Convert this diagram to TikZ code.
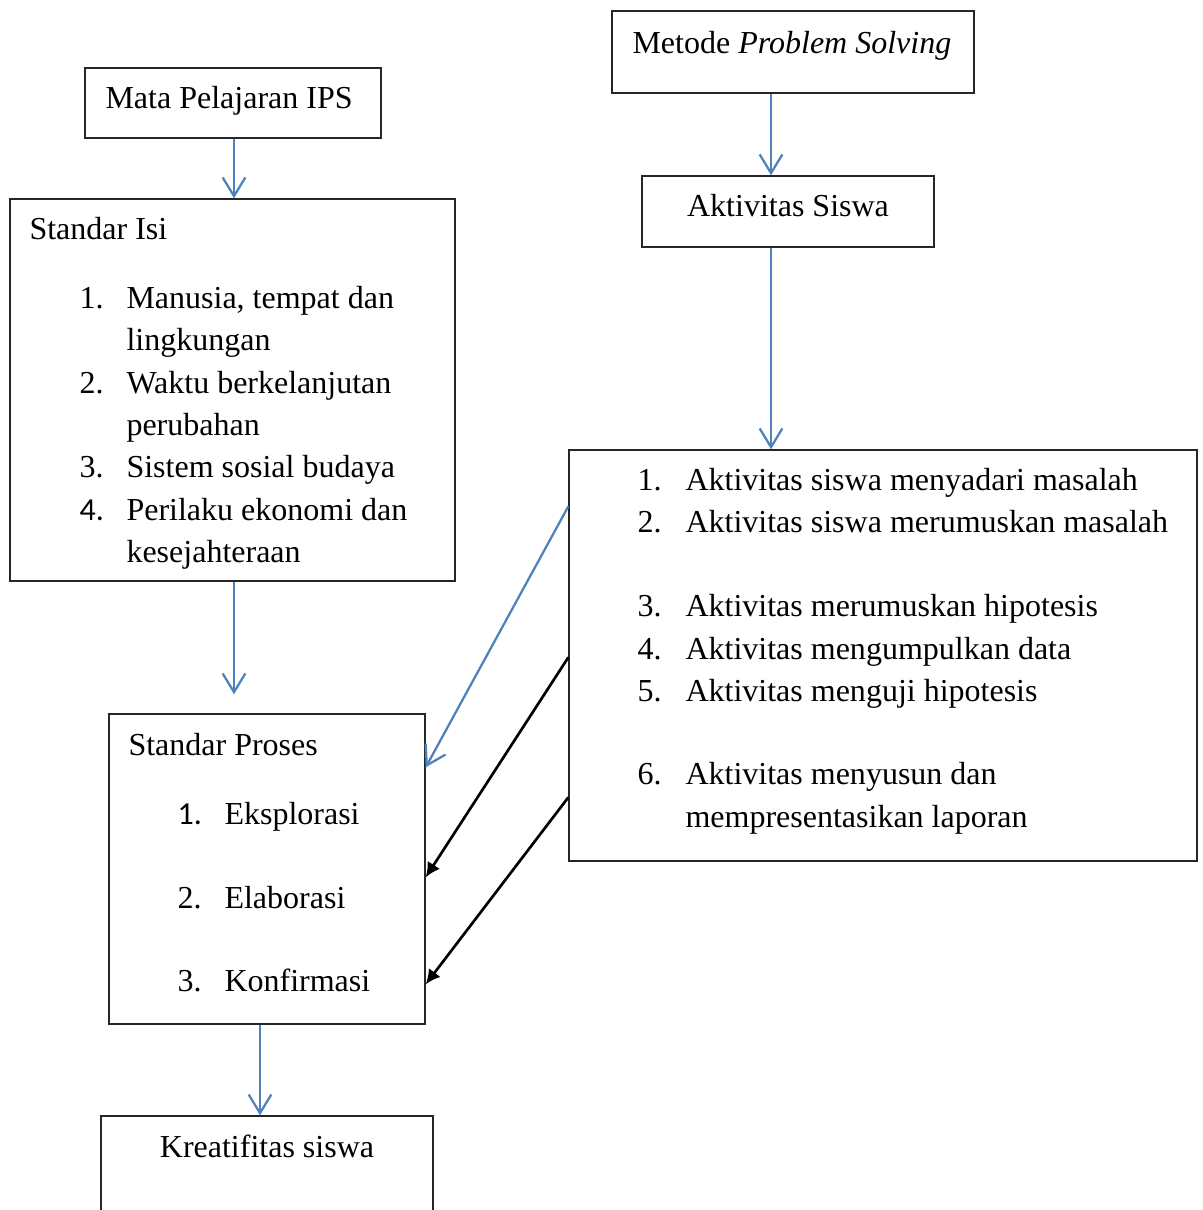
\documentclass[tikz,border=0pt]{standalone}
\usepackage{fontspec}
\setmainfont{Liberation Serif}
\newfontfamily\numfont{Carlito}
\usetikzlibrary{arrows.meta,calc}
\definecolor{wblue}{RGB}{79,129,189}
\tikzset{
  box/.style={draw=black!85, line width=0.5pt, inner sep=0pt},
  txt/.style={anchor=base west, inner sep=0pt, font=\fontsize{12pt}{14pt}\selectfont},
  ctxt/.style={anchor=base, inner sep=0pt, font=\fontsize{12pt}{14pt}\selectfont},
  bluearrow/.style={draw=wblue, line width=0.85pt, -{Straight Barb[length=7pt,width=8.5pt,line width=0.85pt]}},
  blackarrow/.style={draw=black, line width=1pt, -{Latex[length=5.5pt,width=5.5pt]}}
}
\begin{document}
\begin{tikzpicture}[x=0.375pt,y=-0.375pt]
\useasboundingbox (0,0) rectangle (1202,1210);
\clip (0,0) rectangle (1202,1210);
% boxes
\node[box, minimum width=111pt, minimum height=26.25pt] (MP) at (233,103) {};
\node[box, minimum width=135.75pt, minimum height=30.75pt] (MT) at (793,52) {};
\node[box, minimum width=166.875pt, minimum height=143.25pt] (SI) at (232.5,390) {};
\node[box, minimum width=118.5pt, minimum height=116.25pt] (SP) at (267,869) {};
\node[box, minimum width=124.5pt, minimum height=45pt] (KS) at (267,1176) {};
\node[box, minimum width=109.5pt, minimum height=26.625pt] (AS) at (788,211.5) {};
\node[box, minimum width=235.5pt, minimum height=154.125pt] (L) at (883,655.5) {};
% texts
\begin{scope}[shift={(-1,2)}]
\node[txt] (tMP) at (106,107) {Mata Pelajaran IPS};
\node[txt] (tMT) at (633,52) {Metode \textit{Problem Solving}};
\node[txt] (tSI) at (30,238) {Standar Isi};
\node[txt] (si1n) at (80,307) {1.};
\node[txt] (si1) at (127,307) {Manusia, tempat dan};
\node[txt] (si1b) at (127,349) {lingkungan};
\node[txt] (si2n) at (80,392) {2.};
\node[txt] (si2) at (127,392) {Waktu berkelanjutan};
\node[txt] (si2b) at (127,434) {perubahan};
\node[txt] (si3n) at (80,476) {3.};
\node[txt] (si3) at (127,476) {Sistem sosial budaya};
\node[txt] (si4n) at (80,519) {\numfont 4.};
\node[txt] (si4) at (127,519) {Perilaku ekonomi dan};
\node[txt] (si4b) at (127,561) {kesejahteraan};
\node[txt] (tSP) at (129,753) {Standar Proses};
\node[txt] (sp1n) at (178,822) {\numfont 1.};
\node[txt] (sp1) at (225,822) {Eksplorasi};
\node[txt] (sp2n) at (178,906) {2.};
\node[txt] (sp2) at (225,906) {Elaborasi};
\node[txt] (sp3n) at (178,989) {3.};
\node[txt] (sp3) at (225,989) {Konfirmasi};
\node[ctxt] (tKS) at (268,1155) {Kreatifitas siswa};
\node[ctxt] (tAS) at (789,215) {Aktivitas Siswa};
\node[txt] (l1n) at (638,489) {1.};
\node[txt] (l1) at (686,489) {Aktivitas siswa menyadari masalah};
\node[txt] (l2n) at (638,531) {2.};
\node[txt] (l2) at (686,531) {Aktivitas siswa merumuskan masalah};
\node[txt] (l3n) at (638,614) {3.};
\node[txt] (l3) at (686,614) {Aktivitas merumuskan hipotesis};
\node[txt] (l4n) at (638,657) {4.};
\node[txt] (l4) at (686,657) {Aktivitas mengumpulkan data};
\node[txt] (l5n) at (638,699) {5.};
\node[txt] (l5) at (686,699) {Aktivitas menguji hipotesis};
\node[txt] (l6n) at (638,782) {6.};
\node[txt] (l6) at (686,782) {Aktivitas menyusun dan};
\node[txt] (l6b) at (686,825) {mempresentasikan laporan};
\end{scope}
% connectors
\draw[bluearrow] ($(MP.south)+(1,0)$) -- ($(MP.south |- SI.north)+(1,0)$);
\draw[bluearrow] ($(SI.south)+(1.5,0)$) -- ($(SI.south |- SP.north)+(1.5,-19)$);
\draw[bluearrow] ($(SP.south)+(-7,0)$) -- ($(SP.south |- KS.north)+(-7,0)$);
\draw[bluearrow] ($(MT.south)+(-22,0)$) -- ($(MT.south |- AS.north)+(-22,0)$);
\draw[bluearrow] ($(AS.south)+(-17,0)$) -- ($(AS.south |- L.north)+(-17,0)$);
\draw[bluearrow] ($(L.north west)+(0,57)$) -- ($(SP.north east)+(0,54)$);
\draw[blackarrow] ($(L.north west)+(0,208)$) -- ($(SP.north east)+(0,164)$);
\draw[blackarrow] ($(L.north west)+(0,348)$) -- ($(SP.north east)+(0,271)$);
\end{tikzpicture}
\end{document}
